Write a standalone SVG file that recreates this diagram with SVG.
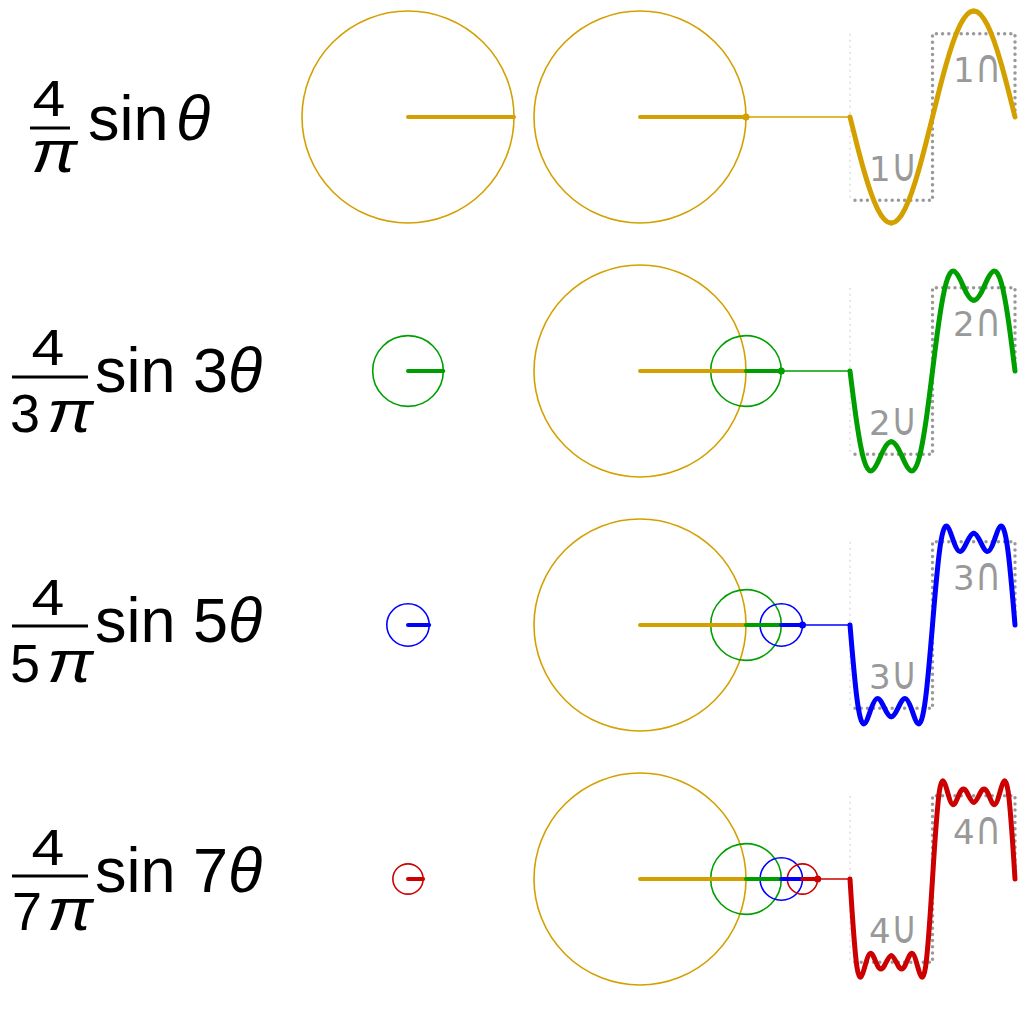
<svg xmlns="http://www.w3.org/2000/svg" width="1024" height="1024" viewBox="0 0 1024 1024">
<style>
.f{font-family:"Liberation Sans",Arial,sans-serif;fill:#000}
.i{font-style:italic}
.bar{stroke:#000;stroke-width:3}
.c{fill:none;stroke-width:1.6}
.r{stroke-width:4;stroke-linecap:round}
.t{stroke-width:1.5}
.w{fill:none;stroke-width:5;stroke-linecap:round;stroke-linejoin:round}
.sq{fill:none;stroke:#999;stroke-width:3.5;stroke-linecap:round;stroke-dasharray:0 6.2}
.ax{stroke:#ddd;stroke-width:1.5;stroke-dasharray:2 4}
.lb{font-family:"DejaVu Sans",sans-serif;font-size:34px;fill:#999}
.cup{font-family:"DejaVu Sans",sans-serif;font-size:36px;fill:#999}
.gold{stroke:#D4A000}
.green{stroke:#009F00}
.blue{stroke:#0000FF}
.red{stroke:#CC0000}
.dgold{fill:#D4A000}
.dgreen{fill:#009F00}
.dblue{fill:#0000FF}
.dred{fill:#CC0000}
</style>
<defs>
<path id="q1" d="M0,0 C2.292,9.250 4.583,18.500 6.875,27.435 C9.167,36.370 11.458,44.989 13.75,53 C16.042,61.011 18.333,68.412 20.625,74.953 C22.917,81.494 25.208,87.174 27.5,91.799 C29.792,96.424 32.083,99.994 34.375,102.388 C36.667,104.782 38.958,106 41.25,106"/>
<path id="q2" d="M0,0 C2.292,18.501 4.583,36.943 6.875,52.419 C9.167,67.895 11.458,80.322 13.75,88.333 C16.042,96.344 18.333,99.938 20.625,99.938 C22.917,99.938 25.208,96.424 27.5,91.799 C29.792,87.174 32.083,81.551 34.375,77.404 C36.667,73.257 38.958,70.667 41.25,70.667"/>
<path id="q3" d="M0,0 C2.292,27.751 4.583,55.027 6.875,72.897 C9.167,90.767 11.458,98.933 13.75,98.933 C16.042,98.933 18.333,91.488 20.625,84.947 C22.917,78.406 25.208,73.439 27.5,73.439 C29.792,73.439 32.083,78.103 34.375,82.891 C36.667,87.679 38.958,91.867 41.25,91.867"/>
<path id="q4" d="M0,0 C2.292,37.001 4.583,72.048 6.875,87.524 C9.167,103 11.458,99.373 13.75,91.362 C16.042,83.351 18.333,74.240 20.625,74.240 C22.917,74.240 25.208,81.928 27.5,86.553 C29.792,91.178 32.083,90.957 34.375,86.810 C36.667,82.663 38.958,76.724 41.25,76.724"/>
</defs>

<!-- formulas -->
<g id="formula1" class="f">
<text transform="translate(49,116) scale(1,0.85)" text-anchor="middle" font-size="59">4</text>
<line class="bar" x1="30" y1="128" x2="70" y2="128"/>
<text class="i" transform="translate(54,172) scale(1.15,1)" text-anchor="middle" font-size="60">π</text>
<text x="88" y="140" font-size="63">sin</text>
<text class="i" x="176" y="140" font-size="63">θ</text>
</g>
<g id="formula2" class="f">
<text transform="translate(48,365) scale(1,0.85)" text-anchor="middle" font-size="59">4</text>
<line class="bar" x1="12" y1="377" x2="88" y2="377"/>
<text x="10" y="432" font-size="54">3</text>
<text class="i" transform="translate(70,432) scale(1.15,1)" text-anchor="middle" font-size="60">π</text>
<text x="95" y="392" font-size="63">sin 3<tspan class="i">θ</tspan></text>
</g>
<g id="formula3" class="f">
<text transform="translate(48,615) scale(1,0.85)" text-anchor="middle" font-size="59">4</text>
<line class="bar" x1="12" y1="626" x2="88" y2="626"/>
<text x="10" y="682" font-size="54">5</text>
<text class="i" transform="translate(70,682) scale(1.15,1)" text-anchor="middle" font-size="60">π</text>
<text x="95" y="642" font-size="63">sin 5<tspan class="i">θ</tspan></text>
</g>
<g id="formula4" class="f">
<text transform="translate(48,865) scale(1,0.85)" text-anchor="middle" font-size="59">4</text>
<line class="bar" x1="12" y1="876" x2="88" y2="876"/>
<text x="12" y="930" font-size="54">7</text>
<text class="i" transform="translate(70,930) scale(1.15,1)" text-anchor="middle" font-size="60">π</text>
<text x="95" y="892" font-size="63">sin 7<tspan class="i">θ</tspan></text>
</g>

<!-- single circles -->
<g id="single1">
<circle class="c gold" cx="408" cy="117" r="106"/>
<line class="r gold" x1="408" y1="117" x2="514" y2="117"/>
</g>
<g id="single2">
<circle class="c green" cx="408" cy="371" r="35.33"/>
<line class="r green" x1="408" y1="371" x2="443.3" y2="371"/>
</g>
<g id="single3">
<circle class="c blue" cx="408" cy="625" r="21.2"/>
<line class="r blue" x1="408" y1="625" x2="429.2" y2="625"/>
</g>
<g id="single4">
<circle class="c red" cx="408" cy="879" r="15.14"/>
<line class="r red" x1="408" y1="879" x2="423.1" y2="879"/>
</g>

<!-- combined epicycles -->
<g id="combo1">
<circle class="c gold" cx="640" cy="117" r="106"/>
<line class="r gold" x1="640" y1="117" x2="746" y2="117"/>
<circle class="dgold" cx="746" cy="117" r="3.5"/>
</g>
<g id="combo2">
<circle class="c gold" cx="640" cy="371" r="106"/>
<circle class="c green" cx="746" cy="371" r="35.33"/>
<line class="r gold" x1="640" y1="371" x2="746" y2="371"/>
<line class="r green" x1="746" y1="371" x2="781.3" y2="371"/>
<circle class="dgreen" cx="781.3" cy="371" r="3.5"/>
</g>
<g id="combo3">
<circle class="c gold" cx="640" cy="625" r="106"/>
<circle class="c green" cx="746" cy="625" r="35.33"/>
<circle class="c blue" cx="781.3" cy="625" r="21.2"/>
<line class="r gold" x1="640" y1="625" x2="746" y2="625"/>
<line class="r green" x1="746" y1="625" x2="781.3" y2="625"/>
<line class="r blue" x1="781.3" y1="625" x2="802.5" y2="625"/>
<circle class="dblue" cx="802.5" cy="625" r="3.5"/>
</g>
<g id="combo4">
<circle class="c gold" cx="640" cy="879" r="106"/>
<circle class="c green" cx="746" cy="879" r="35.33"/>
<circle class="c blue" cx="781.3" cy="879" r="21.2"/>
<circle class="c red" cx="802.5" cy="879" r="15.14"/>
<line class="r gold" x1="640" y1="879" x2="746" y2="879"/>
<line class="r green" x1="746" y1="879" x2="781.3" y2="879"/>
<line class="r blue" x1="781.3" y1="879" x2="802.5" y2="879"/>
<line class="r red" x1="802.5" y1="879" x2="817.7" y2="879"/>
<circle class="dred" cx="817.7" cy="879" r="3.5"/>
</g>

<!-- connectors -->
<g id="connectors">
<line class="t gold" x1="746" y1="117" x2="850" y2="117"/>
<line class="t green" x1="781.3" y1="371" x2="850" y2="371"/>
<line class="t blue" x1="802.5" y1="625" x2="850" y2="625"/>
<line class="t red" x1="817.7" y1="879" x2="850" y2="879"/>
</g>

<!-- waves -->
<g id="wave1" transform="translate(850,117)">
<line class="ax" x1="0" y1="-83.3" x2="0" y2="83.3"/>
<path class="sq" d="M5,83.3 H82.5 V-83.3 H165 V0"/>
<text class="lb" x="19" y="64">1</text>
<text class="cup" transform="translate(41,64) scale(1,1.3)">∪</text>
<text class="lb" x="103" y="-35">1</text>
<text class="cup" transform="translate(125,-35) scale(1,1.3)">∩</text>
<g class="w gold">
<use href="#q1"/>
<use href="#q1" transform="matrix(-1 0 0 1 82.5 0)"/>
<use href="#q1" transform="matrix(1 0 0 -1 82.5 0)"/>
<use href="#q1" transform="matrix(-1 0 0 -1 165 0)"/>
</g>
</g>
<g id="wave2" transform="translate(850,371)">
<line class="ax" x1="0" y1="-83.3" x2="0" y2="83.3"/>
<path class="sq" d="M5,83.3 H82.5 V-83.3 H165 V0"/>
<text class="lb" x="19" y="64">2</text>
<text class="cup" transform="translate(41,64) scale(1,1.3)">∪</text>
<text class="lb" x="103" y="-35">2</text>
<text class="cup" transform="translate(125,-35) scale(1,1.3)">∩</text>
<g class="w green">
<use href="#q2"/>
<use href="#q2" transform="matrix(-1 0 0 1 82.5 0)"/>
<use href="#q2" transform="matrix(1 0 0 -1 82.5 0)"/>
<use href="#q2" transform="matrix(-1 0 0 -1 165 0)"/>
</g>
</g>
<g id="wave3" transform="translate(850,625)">
<line class="ax" x1="0" y1="-83.3" x2="0" y2="83.3"/>
<path class="sq" d="M5,83.3 H82.5 V-83.3 H165 V0"/>
<text class="lb" x="19" y="64">3</text>
<text class="cup" transform="translate(41,64) scale(1,1.3)">∪</text>
<text class="lb" x="103" y="-35">3</text>
<text class="cup" transform="translate(125,-35) scale(1,1.3)">∩</text>
<g class="w blue">
<use href="#q3"/>
<use href="#q3" transform="matrix(-1 0 0 1 82.5 0)"/>
<use href="#q3" transform="matrix(1 0 0 -1 82.5 0)"/>
<use href="#q3" transform="matrix(-1 0 0 -1 165 0)"/>
</g>
</g>
<g id="wave4" transform="translate(850,879)">
<line class="ax" x1="0" y1="-83.3" x2="0" y2="83.3"/>
<path class="sq" d="M5,83.3 H82.5 V-83.3 H165 V0"/>
<text class="lb" x="19" y="64">4</text>
<text class="cup" transform="translate(41,64) scale(1,1.3)">∪</text>
<text class="lb" x="103" y="-35">4</text>
<text class="cup" transform="translate(125,-35) scale(1,1.3)">∩</text>
<g class="w red">
<use href="#q4"/>
<use href="#q4" transform="matrix(-1 0 0 1 82.5 0)"/>
<use href="#q4" transform="matrix(1 0 0 -1 82.5 0)"/>
<use href="#q4" transform="matrix(-1 0 0 -1 165 0)"/>
</g>
</g>
</svg>
